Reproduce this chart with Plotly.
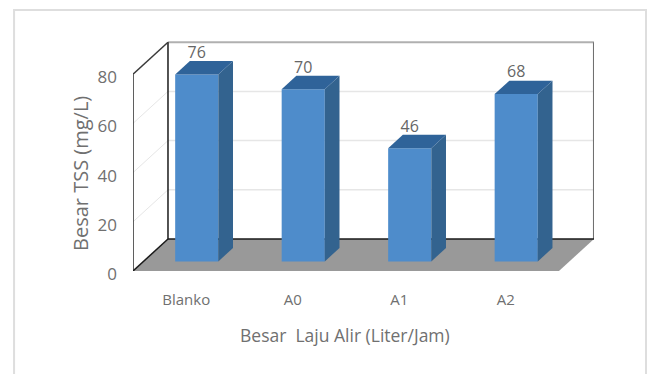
import plotly.graph_objects as go

# Chart data
categories = ["Blanko", "A0", "A1", "A2"]
tss_values = [76, 70, 46, 68]
y_ticks = [0, 20, 40, 60, 80]

FONT = "'Open Sans', Lato, sans-serif"
TEXT = "#707070"

# Pseudo-3D projection: moving "depth" 0..1 into the box shifts x and y in data units
DEPTH_X = 0.3286
DEPTH_Y = 13.0
BAR_WIDTH = 0.405
BAR_FRONT = 0.30   # depth of the bars' front faces
BAR_DEPTH = 0.42   # depth taken up by each bar
WALL_TOP = 80
X_MIN, X_MAX = -0.5, 3.5


def project(x, value, depth=0.0):
    return x + depth * DEPTH_X, value + depth * DEPTH_Y


def polygon(points, fill):
    path = "M " + " L ".join(f"{x} {y}" for x, y in points) + " Z"
    return dict(type="path", path=path, xref="x", yref="y", layer="below",
                fillcolor=fill, line=dict(width=0))


def segment(p, q, color, width):
    return dict(type="line", xref="x", yref="y", layer="below",
                x0=p[0], y0=p[1], x1=q[0], y1=q[1],
                line=dict(color=color, width=width))


shapes = [
    # Outer chart frame
    dict(type="rect", xref="paper", yref="paper", layer="below",
         x0=-0.258, x1=1.1128, y0=-0.45, y1=1.1299,
         line=dict(color="#dedede", width=2), fillcolor="white"),
    # Floor
    polygon([project(X_MIN, 0), project(X_MAX, 0),
             project(X_MAX, 0, 1), project(X_MIN, 0, 1)], "#999999"),
]

# Gridlines across the back wall and the side wall
for tick in y_ticks[1:-1]:
    shapes.append(segment(project(X_MIN, tick), project(X_MIN, tick, 1), "#e6e6e6", 1))
    shapes.append(segment(project(X_MIN, tick, 1), project(X_MAX, tick, 1), "#e6e6e6", 1.5))

# Box edges
shapes += [
    segment(project(X_MIN, WALL_TOP, 1), project(X_MAX, WALL_TOP, 1), "#b0b0b0", 2),
    segment(project(X_MAX, 0, 1), project(X_MAX, WALL_TOP, 1), "#707070", 2),
    segment(project(X_MIN, 0, 1), project(X_MAX, 0, 1), "#1a1a1a", 1.5),
    segment(project(X_MIN, 0, 1), project(X_MIN, WALL_TOP, 1), "#1a1a1a", 1.5),
    segment(project(X_MIN, 0), project(X_MIN, WALL_TOP), "#2a2a2a", 1.5),
    segment(project(X_MIN, WALL_TOP), project(X_MIN, WALL_TOP, 1), "#3a3a3a", 1.5),
    segment(project(X_MIN, 0), project(X_MIN, 0, 1), "#1a1a1a", 1.5),
]

positions = list(range(len(categories)))
front_x = [project(p, 0, BAR_FRONT)[0] for p in positions]
front_base = project(0, 0, BAR_FRONT)[1]

fig = go.Figure()

# Front faces of the columns
fig.add_trace(go.Bar(
    x=front_x, y=tss_values, base=front_base, width=BAR_WIDTH,
    marker=dict(color="#4e8ccb", line=dict(width=0)), hoverinfo="skip",
))

# Side and top faces of the columns
for pos, value in zip(positions, tss_values):
    left, right = pos - BAR_WIDTH / 2, pos + BAR_WIDTH / 2
    near, far = BAR_FRONT, BAR_FRONT + BAR_DEPTH
    side = [project(right, 0, near), project(right, 0, far),
            project(right, value, far), project(right, value, near)]
    top = [project(left, value, near), project(right, value, near),
           project(right, value, far), project(left, value, far)]
    for face, color in ((side, "#33638f"), (top, "#2f6399")):
        fig.add_trace(go.Scatter(
            x=[p[0] for p in face] + [face[0][0]],
            y=[p[1] for p in face] + [face[0][1]],
            mode="lines", fill="toself", fillcolor=color,
            line=dict(width=0, color=color), hoverinfo="skip",
        ))

# Value labels above the columns
fig.add_trace(go.Scatter(
    x=front_x,
    y=[front_base + v + 8.4 for v in tss_values],
    mode="text", text=[str(v) for v in tss_values],
    textposition="middle center",
    textfont=dict(family=FONT, size=16, color="#666666"),
    hoverinfo="skip",
))

fig.update_layout(
    width=649, height=374,
    margin=dict(l=133, r=55, t=40, b=103),
    paper_bgcolor="white", plot_bgcolor="rgba(0,0,0,0)",
    showlegend=False,
    shapes=shapes,
    xaxis=dict(
        range=[X_MIN, 3.829], tickmode="array", tickvals=positions, ticktext=categories,
        showgrid=False, zeroline=False, showline=False, ticks="",
        tickfont=dict(family=FONT, size=15, color=TEXT), ticklabelstandoff=18,
    ),
    yaxis=dict(
        range=[0, 93.9], tickmode="array", tickvals=y_ticks,
        showgrid=False, zeroline=False, showline=False, ticks="",
        tickfont=dict(family=FONT, size=17, color=TEXT), ticklabelstandoff=15,
        ticklabelshift=3,
    ),
    annotations=[
        dict(text="Besar  Laju Alir (Liter/Jam)", xref="paper", yref="paper",
             x=0.4599, y=-0.2771, showarrow=False, xanchor="center", yanchor="middle",
             font=dict(family=FONT, size=17.5, color=TEXT)),
        dict(text="Besar TSS (mg/L)", xref="paper", yref="paper",
             x=-0.1150, y=0.4242, textangle=-90, showarrow=False,
             xanchor="center", yanchor="middle",
             font=dict(family=FONT, size=20, color=TEXT)),
    ],
)

fig.write_html("out.html")
